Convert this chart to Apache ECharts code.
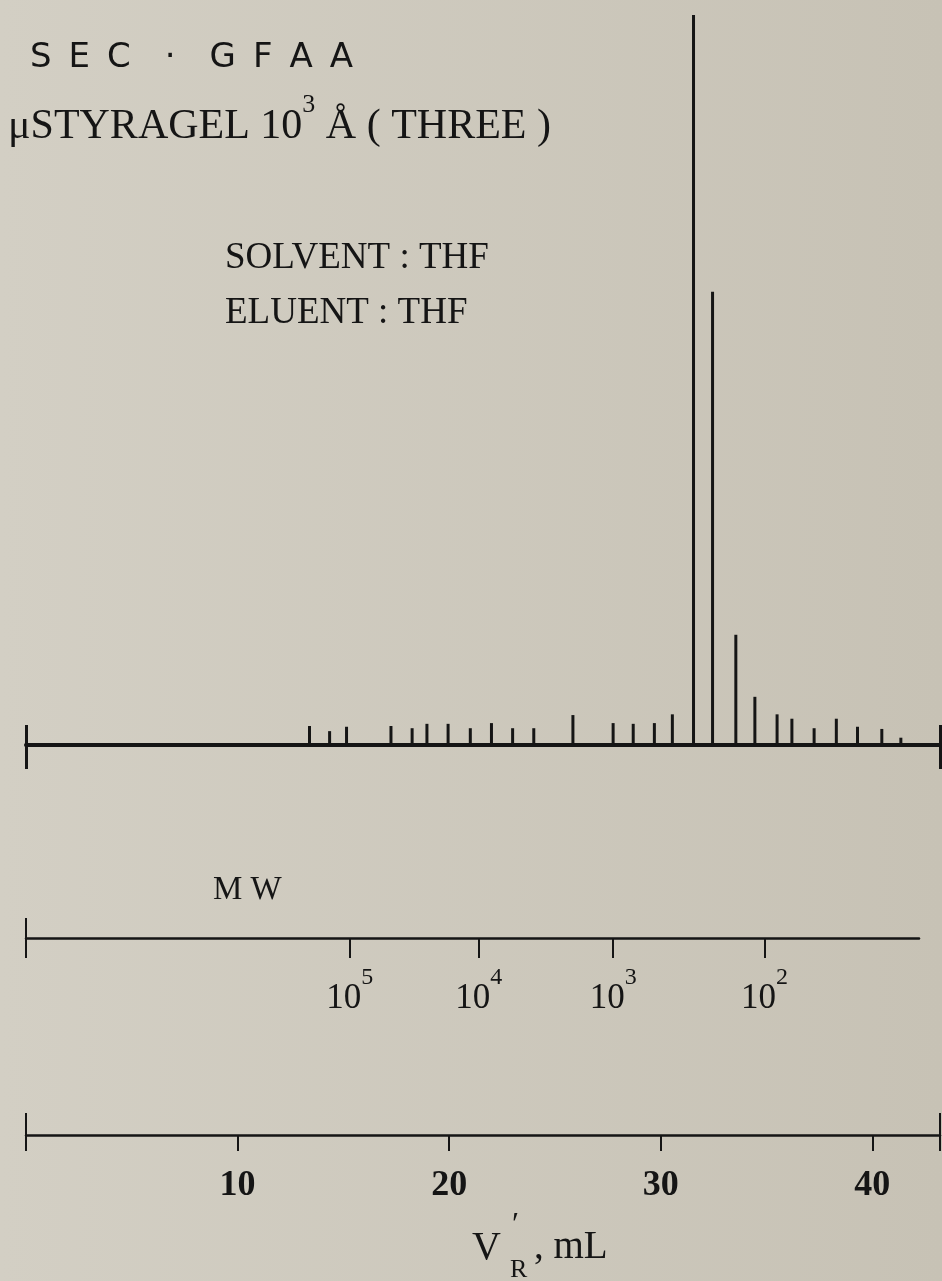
<!DOCTYPE html>
<html>
<head>
<meta charset="utf-8">
<script src="https://cdn.jsdelivr.net/npm/echarts@6.0.0/dist/echarts.min.js"></script>
<style>
html, body { margin: 0; padding: 0; }
#main { width: 942px; height: 1281px; }
</style>
</head>
<body>
<div id="main"></div>
<script>
// retention volume of each collected fraction (mL) and GFAA signal (tallest = 100)
var volumes = [13.4, 14.35, 15.15, 17.25, 18.25, 18.95, 19.95, 21.0, 22.0, 23.0, 24.0, 25.85,
               27.75, 28.7, 29.7, 30.55, 31.55, 32.45, 33.55, 34.45, 35.5, 36.2, 37.25, 38.3,
               39.3, 40.45, 41.35];
var signal = [2.6, 1.9, 2.5, 2.6, 2.3, 2.9, 2.9, 2.3, 3.0, 2.3, 2.3, 4.1,
              3.0, 2.9, 3.0, 4.2, 100, 62.1, 15.1, 6.6, 4.2, 3.6, 2.3, 3.6,
              2.5, 2.2, 1.0];

// molecular weight calibration marks (position in mL, power of ten)
var mwTickVolumes = [15.3, 21.4, 27.75, 34.9];
var mwTickExponents = ['5', '4', '3', '2'];

// retention volume scale
var volumeTicks = [10, 20, 30, 40];
var volumeMax = 43.2;
var mwMax = 42.2;

var ink = '#151515';
var serif = '"Liberation Serif", "DejaVu Serif", serif';

var myChart = echarts.init(document.getElementById('main'));

option = {
    backgroundColor: new echarts.graphic.LinearGradient(0, 0, 1, 0, [{
        offset: 0,
        color: '#d3cfc4'
    }, {
        offset: 1,
        color: '#c7c2b5'
    }]),
    animation: false,
    grid: [
        { left: 26, right: 2, top: 15, bottom: 536 },
        { left: 26, right: 23, top: 920, height: 18 },
        { left: 26, right: 2, top: 1117, height: 18 }
    ],
    xAxis: [
        // main baseline with end marks
        {
            gridIndex: 0, type: 'value', min: 0, max: volumeMax, position: 'bottom',
            axisLine: { onZero: false, lineStyle: { color: ink, width: 4 } },
            axisTick: { customValues: [0, volumeMax], length: 24, lineStyle: { color: ink, width: 3 } },
            axisLabel: { show: false },
            splitLine: { show: false }
        },
        {
            gridIndex: 0, type: 'value', min: 0, max: volumeMax, position: 'bottom',
            axisLine: { show: false },
            axisTick: { inside: true, customValues: [0, volumeMax], length: 20, lineStyle: { color: ink, width: 3 } },
            axisLabel: { show: false },
            splitLine: { show: false }
        },
        // MW scale
        {
            gridIndex: 1, type: 'value', min: 0, max: mwMax, position: 'bottom',
            axisLine: { onZero: false, lineStyle: { color: ink, width: 2.5 } },
            axisTick: { customValues: [0].concat(mwTickVolumes), length: 20, lineStyle: { color: ink, width: 2 } },
            axisLabel: {
                customValues: mwTickVolumes,
                margin: 28,
                formatter: function (v) {
                    var i = mwTickVolumes.indexOf(v);
                    return '{b|10}{s|' + mwTickExponents[i] + '}';
                },
                rich: {
                    b: { fontFamily: serif, fontSize: 35, color: ink, lineHeight: 50, verticalAlign: 'bottom' },
                    s: { fontFamily: serif, fontSize: 24, color: ink, lineHeight: 24, verticalAlign: 'top' }
                }
            },
            splitLine: { show: false }
        },
        {
            gridIndex: 1, type: 'value', min: 0, max: mwMax, position: 'bottom',
            axisLine: { show: false },
            axisTick: { inside: true, customValues: [0], length: 20, lineStyle: { color: ink, width: 2 } },
            axisLabel: { show: false },
            splitLine: { show: false }
        },
        // V'R scale
        {
            gridIndex: 2, type: 'value', min: 0, max: volumeMax, position: 'bottom',
            axisLine: { onZero: false, lineStyle: { color: ink, width: 2.5 } },
            axisTick: { customValues: [0].concat(volumeTicks, [volumeMax]), length: 16, lineStyle: { color: ink, width: 2 } },
            axisLabel: {
                customValues: volumeTicks,
                margin: 33,
                fontFamily: serif,
                fontWeight: 'bold',
                fontSize: 36,
                color: ink
            },
            splitLine: { show: false }
        },
        {
            gridIndex: 2, type: 'value', min: 0, max: volumeMax, position: 'bottom',
            axisLine: { show: false },
            axisTick: { inside: true, customValues: [0, volumeMax], length: 22, lineStyle: { color: ink, width: 2 } },
            axisLabel: { show: false },
            splitLine: { show: false }
        }
    ],
    yAxis: [
        { gridIndex: 0, type: 'value', min: 0, max: 100, show: false },
        { gridIndex: 1, type: 'value', show: false },
        { gridIndex: 2, type: 'value', show: false }
    ],
    graphic: [
        {
            type: 'text', x: 30, y: 58,
            style: { text: 'S\u2002E\u2002C\u2002\u2002·\u2002\u2002G\u2002F\u2002A\u2002A', font: '34px "DejaVu Sans"', fill: ink, verticalAlign: 'middle' }
        },
        {
            type: 'text', x: 8, y: 120,
            style: {
                text: '{a|μSTYRAGEL 10}{s|3}{a| Å ( THREE )}',
                verticalAlign: 'middle',
                rich: {
                    a: { fontFamily: serif, fontSize: 42, fill: ink, lineHeight: 56, verticalAlign: 'bottom' },
                    s: { fontFamily: serif, fontSize: 26, fill: ink, lineHeight: 26, verticalAlign: 'top' }
                }
            }
        },
        {
            type: 'text', x: 225, y: 258,
            style: { text: 'SOLVENT : THF', font: '37px ' + serif, fill: ink, verticalAlign: 'middle' }
        },
        {
            type: 'text', x: 225, y: 313,
            style: { text: 'ELUENT : THF', font: '37px ' + serif, fill: ink, verticalAlign: 'middle' }
        },
        {
            type: 'text', x: 213, y: 890,
            style: { text: 'M W', font: '33px ' + serif, fill: ink, verticalAlign: 'middle' }
        },
        {
            type: 'text', x: 472, y: 1248,
            style: { text: 'V', font: '40px ' + serif, fill: ink, verticalAlign: 'middle' }
        },
        {
            type: 'text', x: 512, y: 1226,
            style: { text: '′', font: '32px ' + serif, fill: ink, verticalAlign: 'middle' }
        },
        {
            type: 'text', x: 510, y: 1270,
            style: { text: 'R', font: '26px ' + serif, fill: ink, verticalAlign: 'middle' }
        },
        {
            type: 'text', x: 534, y: 1248,
            style: { text: ', mL', font: '39px ' + serif, fill: ink, verticalAlign: 'middle' }
        }
    ],
    series: [{
        name: 'GFAA',
        type: 'custom',
        xAxisIndex: 0,
        yAxisIndex: 0,
        renderItem: function (params, api) {
            var base = api.coord([api.value(0), 0]);
            var top = api.coord([api.value(0), api.value(1)]);
            return {
                type: 'line',
                shape: { x1: base[0], y1: base[1], x2: top[0], y2: top[1] },
                style: { stroke: ink, lineWidth: 3 }
            };
        },
        data: volumes.map(function (v, i) { return [v, signal[i]]; })
    }]
};

myChart.setOption(option);

window.onresize = function () {
    myChart.resize();
};
</script>
</body>
</html>
